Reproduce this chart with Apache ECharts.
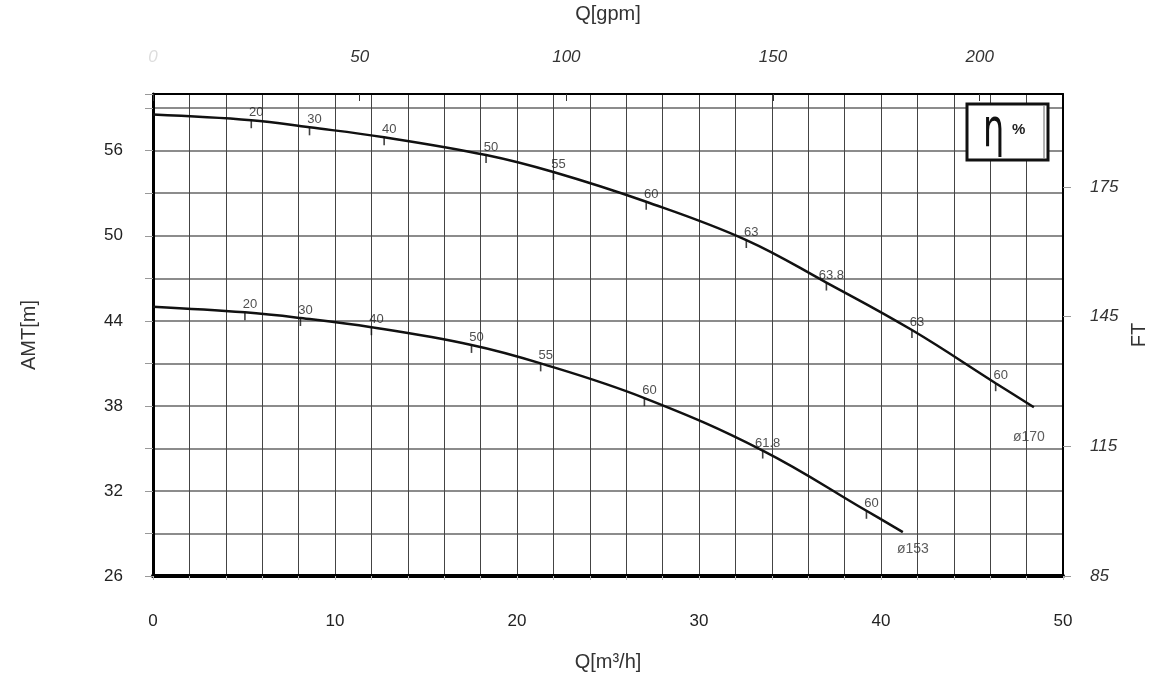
<!DOCTYPE html>
<html><head><meta charset="utf-8">
<script src="https://cdn.jsdelivr.net/npm/echarts@6/dist/echarts.min.js"></script>
<style>html,body{margin:0;padding:0;background:#fff}#c{width:1154px;height:681px}</style>
</head><body><div id="c"></div>
<script>
// Pump curve data
const flow170 = [0, 5.4, 8.6, 12.7, 18.3, 22.0, 27.1, 32.6, 37.0, 41.7, 46.3, 48.4];
const head170 = [58.55, 58.15, 57.65, 56.95, 55.7, 54.5, 52.4, 49.7, 46.7, 43.35, 39.6, 37.9];
const eff170  = [null, 20, 30, 40, 50, 55, 60, 63, 63.8, 63, 60, null];
const flow153 = [0, 5.05, 8.1, 12.0, 17.5, 21.3, 27.0, 33.5, 39.2, 41.2];
const head153 = [45.0, 44.6, 44.2, 43.55, 42.3, 41.0, 38.55, 34.85, 30.6, 29.1];
const eff153  = [null, 20, 30, 40, 50, 55, 60, 61.8, 60, null];
const impellers = ['ø170', 'ø153'];
const headTicks = [26, 32, 38, 44, 50, 56];
const ftTicks = [85, 115, 145, 175];
const gpmTicks = [0, 50, 100, 150, 200];
const flowTicks = [0, 10, 20, 30, 40, 50];

const M_TO_FT = 3.28084, M3H_TO_GPM = 4.40287;
const FONT = '"Liberation Sans", Arial, sans-serif';

function curve(q, h) { return q.map((x, i) => [x, h[i]]); }
function effPts(q, h, e) { return q.map((x, i) => [x, h[i], e[i]]).filter(d => d[2] !== null); }

const chart = echarts.init(document.getElementById('c'), null, {renderer: 'canvas'});

const effSeries = (data) => ({
  type: 'scatter', data, xAxisIndex: 0, yAxisIndex: 0,
  symbol: 'rect', symbolSize: [1.6, 8], symbolOffset: [0, 4],
  itemStyle: {color: '#111'},
  label: {show: true, position: 'top', distance: 1, offset: [5, 0],
    formatter: p => String(p.data[2]), color: '#222', fontSize: 13, fontFamily: FONT},
  z: 5, silent: true
});

chart.setOption({
  animation: false,
  backgroundColor: '#fff',
  grid: {left: 153, right: 91, top: 94, bottom: 105, outerBoundsMode: 'none', containLabel: false},
  xAxis: [
    {type: 'value', position: 'bottom', min: 0, max: 50, interval: 2,
     name: 'Q[m³/h]', nameLocation: 'middle', nameGap: 76,
     nameTextStyle: {fontSize: 20, color: '#333', fontFamily: FONT},
     axisLine: {show: true, onZero: false, lineStyle: {color: '#000', width: 4}},
     axisTick: {show: true, length: 4, lineStyle: {color: '#bbb'}},
     axisLabel: {margin: 37, fontSize: 17, color: '#222', fontFamily: FONT,
       formatter: v => flowTicks.includes(v) ? String(v) : ''},
     splitLine: {show: true, lineStyle: {color: '#444', width: 1}}},
    {type: 'value', position: 'top', min: 0, max: 50 * M3H_TO_GPM, interval: 50,
     name: 'Q[gpm]', nameLocation: 'middle', nameGap: 70,
     nameTextStyle: {fontSize: 20, color: '#333', fontFamily: FONT},
     axisLine: {show: true, onZero: false, lineStyle: {color: '#000', width: 2}},
     axisTick: {show: true, inside: true, length: 7, lineStyle: {color: '#333'}},
     axisLabel: {margin: 28, fontSize: 17, fontStyle: 'italic', color: '#333', fontFamily: FONT,
       showMaxLabel: false,
       formatter: v => v === 0 ? '{f|0}' : (gpmTicks.includes(v) ? String(v) : ''),
       rich: {f: {color: '#ddd', fontSize: 17, fontStyle: 'italic', fontFamily: FONT}}},
     splitLine: {show: false}}
  ],
  yAxis: [
    {type: 'value', position: 'left', min: 26, max: 60, interval: 3,
     name: 'AMT[m]', nameLocation: 'middle', nameGap: 114,
     nameTextStyle: {fontSize: 20, color: '#333', fontFamily: FONT},
     axisLine: {show: true, onZero: false, lineStyle: {color: '#000', width: 3}},
     axisTick: {show: true, length: 8, lineStyle: {color: '#999'}},
     axisLabel: {margin: 30, fontSize: 17, color: '#222', fontFamily: FONT,
       formatter: v => headTicks.includes(v) ? String(v) : ''},
     splitLine: {show: true, lineStyle: {color: '#666', width: 1.5}}},
    {type: 'value', position: 'right', min: ftTicks[0], max: ftTicks[0] + 34 * M_TO_FT, interval: 30,
     name: 'FT', nameLocation: 'middle', nameGap: 66,
     nameTextStyle: {fontSize: 20, color: '#333', fontFamily: FONT},
     axisLine: {show: true, onZero: false, lineStyle: {color: '#000', width: 2}},
     axisTick: {show: true, length: 8, lineStyle: {color: '#999'}},
     axisLabel: {margin: 27, fontSize: 17, fontStyle: 'italic', color: '#333', fontFamily: FONT,
       showMaxLabel: false,
       formatter: v => ftTicks.includes(v) ? String(v) : ''},
     splitLine: {show: false}}
  ],
  graphic: [
    {type: 'rect', shape: {x: 967, y: 104, width: 81, height: 56},
     style: {fill: '#fff', stroke: '#111', lineWidth: 3}, z: 10},
    {type: 'line', shape: {x1: 1044, y1: 106, x2: 1044, y2: 158},
     style: {stroke: '#666', lineWidth: 1}, z: 11},
    {type: 'text', x: 983, y: 106, scaleX: 0.8, scaleY: 1.25,
     style: {text: 'η', font: '42px "DejaVu Sans", sans-serif', fill: '#111'}, z: 11},
    {type: 'text', x: 1012, y: 122,
     style: {text: '%', font: 'bold 15px "Liberation Sans", Arial, sans-serif', fill: '#222'}, z: 11}
  ],
  series: [
    {type: 'line', name: impellers[0], data: curve(flow170, head170), smooth: 0.4,
     symbol: 'none', lineStyle: {color: '#111', width: 2.5}, z: 4, silent: true},
    {type: 'line', name: impellers[1], data: curve(flow153, head153), smooth: 0.4,
     symbol: 'none', lineStyle: {color: '#111', width: 2.5}, z: 4, silent: true},
    effSeries(effPts(flow170, head170, eff170)),
    effSeries(effPts(flow153, head153, eff153)),
    {type: 'scatter', symbol: 'circle', symbolSize: 1, silent: true, z: 6,
     itemStyle: {color: 'rgba(0,0,0,0)'},
     data: [
       {value: [flow170[flow170.length - 1], head170[head170.length - 1]], name: impellers[0],
        label: {position: 'bottom', distance: 22, offset: [-5, 0]}},
       {value: [flow153[flow153.length - 1], head153[head153.length - 1]], name: impellers[1],
        label: {position: 'bottom', distance: 10, offset: [10, 0]}}
     ],
     label: {show: true, formatter: p => p.name, fontSize: 14, color: '#333', fontFamily: FONT}}
  ]
});
</script></body></html>
